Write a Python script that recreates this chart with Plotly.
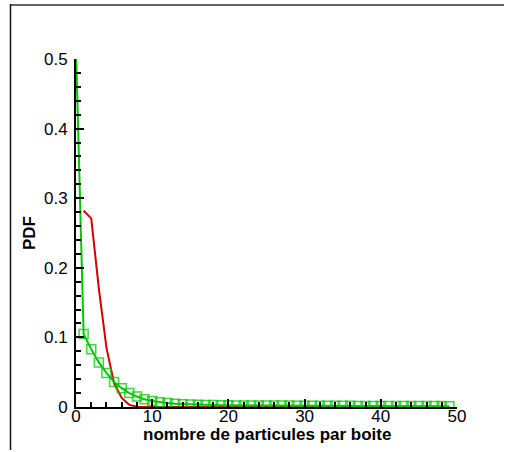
import plotly.graph_objects as go

# ---- data ----
x_green = list(range(0, 50))
y_green = [0.515, 0.105, 0.083, 0.064, 0.049, 0.036, 0.027, 0.020, 0.015, 0.011,
           0.0085, 0.0068, 0.0056, 0.0047, 0.0041, 0.0036, 0.0032, 0.0029, 0.0027, 0.0025,
           0.0024, 0.0023, 0.0023, 0.0022, 0.0022, 0.0021, 0.0021, 0.0020, 0.0020, 0.0019,
           0.0019, 0.0018, 0.0018, 0.0018, 0.0017, 0.0017, 0.0017, 0.0016, 0.0016, 0.0016,
           0.0015, 0.0015, 0.0015, 0.0014, 0.0014, 0.0014, 0.0013, 0.0013, 0.0013, 0.0012]

x_red = list(range(1, 50))
y_red = [0.282, 0.271, 0.170, 0.085, 0.034, 0.013, 0.003, 0.0005, 0.0, 0.0,
         0.0, 0.0, 0.0, 0.0, 0.0, 0.0, 0.0, 0.0, 0.0, 0.0,
         0.0, 0.0, 0.0, 0.0, 0.0, 0.0, 0.0, 0.0, 0.0, 0.0,
         0.0, 0.0, 0.0, 0.0, 0.0, 0.0, 0.0, 0.0, 0.0, 0.0,
         0.0, 0.0, 0.0, 0.0, 0.0, 0.0, 0.0, 0.0, 0.0]

x_ticks = [0, 10, 20, 30, 40, 50]
y_ticks = [0, 0.1, 0.2, 0.3, 0.4, 0.5]
y_tick_labels = ["0", "0.1", "0.2", "0.3", "0.4", "0.5"]

x_title = "nombre de particules par boite"
y_title = "PDF"

GREEN = "rgb(0,200,0)"
RED = "rgb(210,0,0)"
FONT = "Arial, Liberation Sans, sans-serif"

fig = go.Figure()
fig.add_trace(go.Scatter(x=x_red, y=y_red, mode="lines",
                         line=dict(color=RED, width=2), showlegend=False))
fig.add_trace(go.Scatter(x=x_green, y=y_green, mode="lines",
                         line=dict(color=GREEN, width=2), showlegend=False))
fig.add_trace(go.Scatter(x=x_green[1:], y=y_green[1:], mode="markers",
                         marker=dict(symbol="square-open", size=9,
                                     color="rgba(0,200,0,0.75)",
                                     line=dict(width=1.5)),
                         showlegend=False))

# plot area in pixels
L, R, T, B = 76, 457, 59, 407
W, H = 504, 450


def px_x(p):
    return (p - L) / (R - L)


def px_y(p):
    return (B - p) / (B - T)


fig.update_layout(
    width=W, height=H, autosize=False,
    margin=dict(l=L, r=W - R, t=T, b=H - B, pad=0),
    paper_bgcolor="white", plot_bgcolor="white",
    font=dict(family=FONT, color="black", size=17),
    xaxis=dict(range=[0, 50], tickvals=x_ticks, ticks="inside", ticklen=8,
               tickwidth=2, tickcolor="black", showline=True, linecolor="black",
               linewidth=2, showgrid=False, zeroline=False, mirror=False,
               tickfont=dict(size=17, family=FONT), ticklabelstandoff=-7,
               minor=dict(dtick=2, ticks="inside", ticklen=5, tickwidth=1.5,
                          tickcolor="black", showgrid=False),
               automargin=False),
    yaxis=dict(range=[0, 0.5], tickvals=y_ticks, ticktext=y_tick_labels,
               ticks="inside", ticklen=8, tickwidth=2, tickcolor="black",
               showline=True, linecolor="black", linewidth=2, showgrid=False,
               zeroline=False, tickfont=dict(size=17, family=FONT),
               ticklabelstandoff=3,
               minor=dict(dtick=0.02, ticks="inside", ticklen=5, tickwidth=1.5,
                          tickcolor="black", showgrid=False),
               automargin=False),
    annotations=[
        dict(text="<b>" + x_title + "</b>", xref="paper", yref="paper",
             x=0.5, y=px_y(434), xanchor="center", yanchor="middle",
             showarrow=False, font=dict(size=17, family=FONT)),
        dict(text="<b>" + y_title + "</b>", xref="paper", yref="paper",
             x=px_x(29), y=0.5, xanchor="center", yanchor="middle",
             textangle=-90, showarrow=False, font=dict(size=17, family=FONT)),
    ],
    shapes=[
        dict(type="line", xref="paper", yref="paper",
             x0=px_x(10), x1=px_x(W), y0=px_y(5), y1=px_y(5),
             line=dict(color="rgb(100,100,100)", width=2)),
        dict(type="line", xref="paper", yref="paper",
             x0=px_x(10.5), x1=px_x(10.5), y0=px_y(4), y1=px_y(H),
             line=dict(color="rgb(20,20,20)", width=1.5)),
    ],
)

fig.write_html("out.html",
               config={"displayModeBar": False},
               post_script="document.body.style.margin='0';"
                           "document.body.style.overflow='hidden';"
                           "document.documentElement.style.overflow='hidden';")
